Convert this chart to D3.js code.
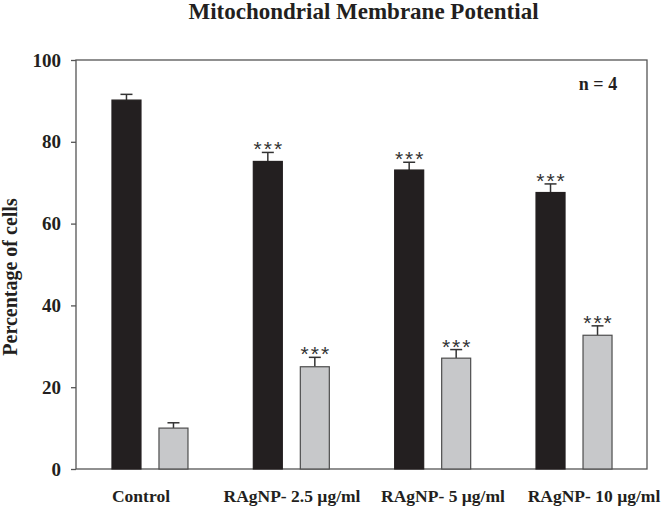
<!DOCTYPE html>
<html>
<head>
<meta charset="utf-8">
<script src="https://cdn.jsdelivr.net/npm/d3@7"></script>
<style>
  html, body { margin: 0; padding: 0; background: #fff; }
  svg { display: block; }
  text { font-family: "Liberation Serif", "Times New Roman", serif; font-weight: bold; fill: #231f20; }
</style>
</head>
<body>
<svg id="chart" width="666" height="509"></svg>
<script>
const categories = ["Control", "RAgNP- 2.5 \u00b5g/ml", "RAgNP- 5 \u00b5g/ml", "RAgNP- 10 \u00b5g/ml"];
const series = ["high", "low"];
const highValues = [90.2, 75.2, 73.1, 67.6];
const highErrors = [1.4, 2.2, 1.9, 2.1];
const lowValues = [10.0, 25.0, 27.1, 32.7];
const lowErrors = [1.3, 2.3, 2.1, 2.3];
const significance = ["", "***", "***", "***"];
const yTicks = [0, 20, 40, 60, 80, 100];
const title = "Mitochondrial Membrane Potential";
const yLabel = "Percentage of cells";
const note = "n = 4";

const svg = d3.select("#chart");
const plot = { left: 76, right: 647, top: 60, bottom: 469 };

const y = d3.scaleLinear().domain([0, 100]).range([plot.bottom, plot.top]);
const x = d3.scaleBand().domain(categories).range([79.3, 644.7]).paddingInner(0).paddingOuter(0);
const inner = d3.scaleBand().domain(series)
  .range([x.bandwidth() / 2 - 38, x.bandwidth() / 2 + 38])
  .paddingInner(0.383).paddingOuter(0);
const labelX = d3.scalePoint().domain(categories).range([141, 594]);

const colors = { high: "#231f20", low: "#c7c8ca" };
const strokes = { high: "#231f20", low: "#4d4d4d" };

const data = [];
categories.forEach((c, i) => {
  data.push({ cat: c, s: "high", v: highValues[i], e: highErrors[i], sig: significance[i] });
  data.push({ cat: c, s: "low", v: lowValues[i], e: lowErrors[i], sig: significance[i] });
});

// frame
svg.append("rect")
  .attr("x", plot.left).attr("y", plot.top)
  .attr("width", plot.right - plot.left).attr("height", plot.bottom - plot.top)
  .attr("fill", "none").attr("stroke", "#555").attr("stroke-width", 1.3);

// error bars
const eb = svg.append("g").attr("stroke", "#333").attr("stroke-width", 1.5);
data.forEach(d => {
  const cx = x(d.cat) + inner(d.s) + inner.bandwidth() / 2;
  eb.append("line").attr("x1", cx).attr("x2", cx).attr("y1", y(d.v)).attr("y2", y(d.v + d.e));
  eb.append("line").attr("x1", cx - 6).attr("x2", cx + 6).attr("y1", y(d.v + d.e)).attr("y2", y(d.v + d.e));
});

// bars
svg.append("g").selectAll("rect").data(data).join("rect")
  .attr("x", d => x(d.cat) + inner(d.s))
  .attr("y", d => y(d.v))
  .attr("width", inner.bandwidth())
  .attr("height", d => y(0) - y(d.v))
  .attr("fill", d => colors[d.s])
  .attr("stroke", d => strokes[d.s])
  .attr("stroke-width", 1.2);

// significance stars
svg.append("g").selectAll("text").data(data.filter(d => d.sig)).join("text")
  .attr("x", d => x(d.cat) + inner(d.s) + inner.bandwidth() / 2 + 1)
  .attr("y", d => y(d.v + d.e) + 4)
  .attr("text-anchor", "middle")
  .style("font-family", "'Liberation Sans', Arial, sans-serif")
  .style("font-weight", "normal")
  .style("font-size", "21px")
  .style("letter-spacing", "2px")
  .style("fill", "#333")
  .text(d => d.sig);

// y axis
const yAxis = svg.append("g").attr("transform", `translate(${plot.left},0)`)
  .call(d3.axisLeft(y).tickValues(yTicks).tickSize(5).tickPadding(10).tickFormat(d3.format("d")));
yAxis.select(".domain").remove();
yAxis.selectAll(".tick line").attr("stroke", "#555").attr("stroke-width", 1.3);
yAxis.selectAll(".tick text")
  .style("font-family", "'Liberation Serif', 'Times New Roman', serif")
  .style("font-weight", "bold").style("font-size", "19px").style("fill", "#231f20");

// x labels
svg.append("g").selectAll("text").data(categories).join("text")
  .attr("x", d => labelX(d))
  .attr("y", 502)
  .attr("text-anchor", "middle")
  .style("font-size", "17.5px")
  .text(d => d);

// title
svg.append("text")
  .attr("x", (plot.left + plot.right) / 2 + 2)
  .attr("y", 19)
  .attr("text-anchor", "middle")
  .style("font-size", "23px")
  .text(title);

// y label
svg.append("text")
  .attr("transform", `translate(17,${277}) rotate(-90)`)
  .attr("text-anchor", "middle")
  .style("font-size", "20px")
  .text(yLabel);

// note
svg.append("text")
  .attr("x", 598)
  .attr("y", 90)
  .attr("text-anchor", "middle")
  .style("font-size", "18px")
  .text(note);
</script>
</body>
</html>
